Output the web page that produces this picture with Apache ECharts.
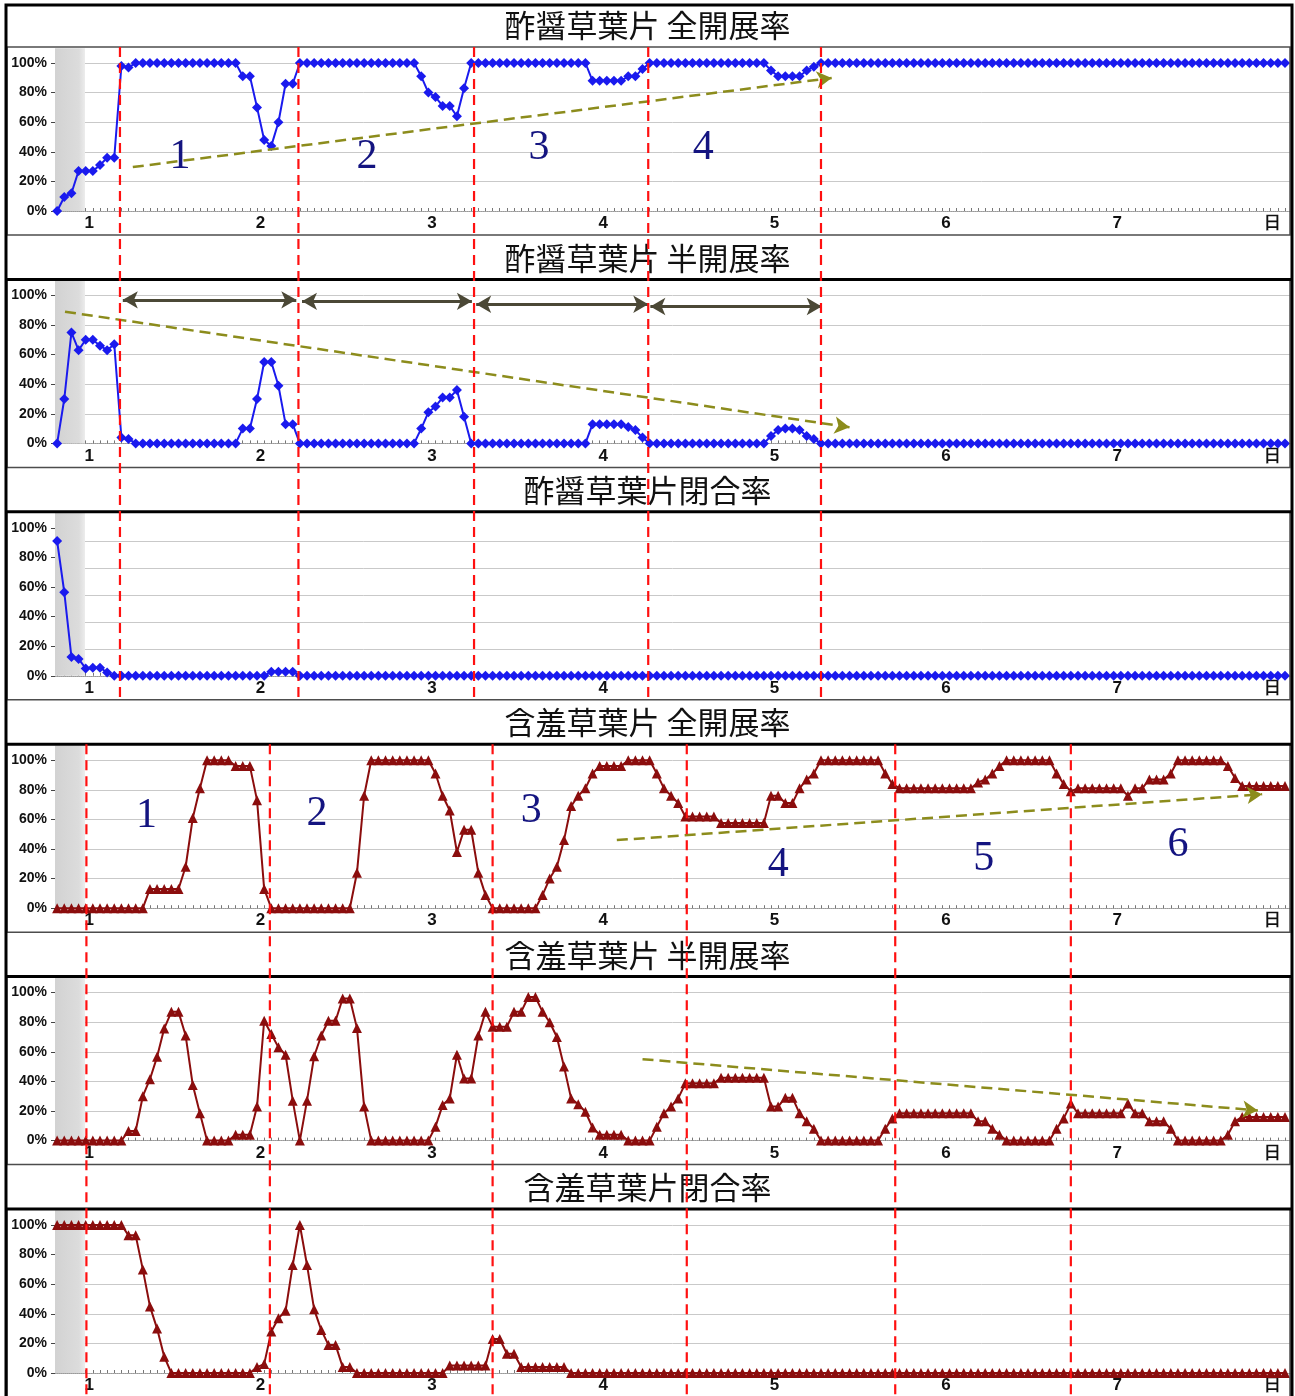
<!DOCTYPE html>
<html>
<head>
<meta charset="utf-8">
<script src="https://cdn.jsdelivr.net/npm/echarts@6/dist/echarts.min.js"></script>
<style>
  html, body { margin: 0; padding: 0; background: #fff; }
  #main { width: 1295px; height: 1396px; }
</style>
</head>
<body>
<div id="main"></div>
<script>
// Hourly leaf-state ratios (%), hour 0 … 172, one row per day.
const oxalisFull = [
  0, 9.5, 12, 27, 27, 27, 31, 36, 36, 98, 97, 100, 100, 100, 100, 100, 100, 100, 100, 100, 100, 100, 100, 100,
  100, 100, 91, 91, 70, 48, 44, 60, 86, 86, 100, 100, 100, 100, 100, 100, 100, 100, 100, 100, 100, 100, 100, 100,
  100, 100, 100, 91, 80, 77, 71, 71, 64, 83, 100, 100, 100, 100, 100, 100, 100, 100, 100, 100, 100, 100, 100, 100,
  100, 100, 100, 88, 88, 88, 88, 88, 91, 91, 96, 100, 100, 100, 100, 100, 100, 100, 100, 100, 100, 100, 100, 100,
  100, 100, 100, 100, 95, 91, 91, 91, 91, 95, 97.5, 100, 100, 100, 100, 100, 100, 100, 100, 100, 100, 100, 100, 100,
  100, 100, 100, 100, 100, 100, 100, 100, 100, 100, 100, 100, 100, 100, 100, 100, 100, 100, 100, 100, 100, 100, 100, 100,
  100, 100, 100, 100, 100, 100, 100, 100, 100, 100, 100, 100, 100, 100, 100, 100, 100, 100, 100, 100, 100, 100, 100, 100,
  100, 100, 100, 100, 100
];
const oxalisHalf = [
  0, 30, 75, 63, 70, 70, 66, 63, 67, 4, 3, 0, 0, 0, 0, 0, 0, 0, 0, 0, 0, 0, 0, 0,
  0, 0, 10, 10, 30, 55, 55, 39, 13, 13, 0, 0, 0, 0, 0, 0, 0, 0, 0, 0, 0, 0, 0, 0,
  0, 0, 0, 10, 21, 25, 31, 31, 36, 18, 0, 0, 0, 0, 0, 0, 0, 0, 0, 0, 0, 0, 0, 0,
  0, 0, 0, 13, 13, 13, 13, 13, 11, 9, 4, 0, 0, 0, 0, 0, 0, 0, 0, 0, 0, 0, 0, 0,
  0, 0, 0, 0, 5, 9, 10, 10, 9, 5, 3, 0, 0, 0, 0, 0, 0, 0, 0, 0, 0, 0, 0, 0,
  0, 0, 0, 0, 0, 0, 0, 0, 0, 0, 0, 0, 0, 0, 0, 0, 0, 0, 0, 0, 0, 0, 0, 0,
  0, 0, 0, 0, 0, 0, 0, 0, 0, 0, 0, 0, 0, 0, 0, 0, 0, 0, 0, 0, 0, 0, 0, 0,
  0, 0, 0, 0, 0
];
const oxalisClosed = [
  100, 62, 14, 12.5, 5.5, 6, 6, 2.5, 0, 0, 0, 0, 0, 0, 0, 0, 0, 0, 0, 0, 0, 0, 0, 0,
  0, 0, 0, 0, 0, 0, 3, 3, 3, 3, 0, 0, 0, 0, 0, 0, 0, 0, 0, 0, 0, 0, 0, 0,
  0, 0, 0, 0, 0, 0, 0, 0, 0, 0, 0, 0, 0, 0, 0, 0, 0, 0, 0, 0, 0, 0, 0, 0,
  0, 0, 0, 0, 0, 0, 0, 0, 0, 0, 0, 0, 0, 0, 0, 0, 0, 0, 0, 0, 0, 0, 0, 0,
  0, 0, 0, 0, 0, 0, 0, 0, 0, 0, 0, 0, 0, 0, 0, 0, 0, 0, 0, 0, 0, 0, 0, 0,
  0, 0, 0, 0, 0, 0, 0, 0, 0, 0, 0, 0, 0, 0, 0, 0, 0, 0, 0, 0, 0, 0, 0, 0,
  0, 0, 0, 0, 0, 0, 0, 0, 0, 0, 0, 0, 0, 0, 0, 0, 0, 0, 0, 0, 0, 0, 0, 0,
  0, 0, 0, 0, 0
];
const mimosaFull = [
  0, 0, 0, 0, 0, 0, 0, 0, 0, 0, 0, 0, 0, 13, 13, 13, 13, 13, 28, 61, 81, 100, 100, 100,
  100, 96, 96, 96, 73, 13, 0, 0, 0, 0, 0, 0, 0, 0, 0, 0, 0, 0, 24, 76, 100, 100, 100, 100,
  100, 100, 100, 100, 100, 91, 76, 66, 38, 53, 53, 24, 9, 0, 0, 0, 0, 0, 0, 0, 9, 20, 28, 46,
  69, 76, 81, 91, 96, 96, 96, 96, 100, 100, 100, 100, 91, 81, 76, 71, 62, 62, 62, 62, 62, 57.5, 57.5, 57.5,
  57.5, 57.5, 57.5, 57.5, 76, 76, 71, 71, 81, 87, 91, 100, 100, 100, 100, 100, 100, 100, 100, 100, 91, 84, 81, 81,
  81, 81, 81, 81, 81, 81, 81, 81, 81, 85, 87, 91, 96, 100, 100, 100, 100, 100, 100, 100, 91, 84, 79, 81,
  81, 81, 81, 81, 81, 81, 76, 81, 81, 87, 87, 87, 91, 100, 100, 100, 100, 100, 100, 100, 96, 88, 82.5, 82.5,
  82.5, 82.5, 82.5, 82.5, 82.5
];
const mimosaHalf = [
  0, 0, 0, 0, 0, 0, 0, 0, 0, 0, 6.5, 6.5, 30, 41.5, 56.6, 75.7, 87, 87, 71, 37.5, 18.4, 0, 0, 0,
  0, 4, 4, 4, 23, 81, 72, 63, 58, 27, 0, 27, 57, 71, 81, 81, 96, 96, 76, 23, 0, 0, 0, 0,
  0, 0, 0, 0, 0, 9.4, 24, 28.5, 58, 42, 42, 71, 87, 77, 77, 77, 87, 87, 97, 97, 87, 80, 70, 50,
  28.5, 24.5, 19.5, 8.8, 4, 4, 4, 4, 0, 0, 0, 0, 9.4, 18.4, 23, 28.5, 38.7, 38.7, 38.7, 38.7, 38.7, 42.5, 42.5, 42.5,
  42.5, 42.5, 42.5, 42.5, 23, 23, 29, 29, 18.4, 13, 8, 0, 0, 0, 0, 0, 0, 0, 0, 0, 8, 15, 18.4, 18.4,
  18.4, 18.4, 18.4, 18.4, 18.4, 18.4, 18.4, 18.4, 18.4, 13, 13, 8, 4, 0, 0, 0, 0, 0, 0, 0, 8, 15, 25, 18.4,
  18.4, 18.4, 18.4, 18.4, 18.4, 18.4, 25, 18.4, 18.4, 13, 13, 13, 8, 0, 0, 0, 0, 0, 0, 0, 4, 13, 16, 16,
  16, 16, 16, 16, 16
];
const mimosaClosed = [
  100, 100, 100, 100, 100, 100, 100, 100, 100, 100, 93, 93, 70, 45, 30, 11, 0, 0, 0, 0, 0, 0, 0, 0,
  0, 0, 0, 0, 4, 6, 28, 37, 42, 73, 100, 73, 43, 29, 19, 19, 4, 4, 0, 0, 0, 0, 0, 0,
  0, 0, 0, 0, 0, 0, 0, 5, 5, 5, 5, 5, 5, 23, 23, 13, 13, 4, 4, 4, 4, 4, 4, 4,
  0, 0, 0, 0, 0, 0, 0, 0, 0, 0, 0, 0, 0, 0, 0, 0, 0, 0, 0, 0, 0, 0, 0, 0,
  0, 0, 0, 0, 0, 0, 0, 0, 0, 0, 0, 0, 0, 0, 0, 0, 0, 0, 0, 0, 0, 0, 0, 0,
  0, 0, 0, 0, 0, 0, 0, 0, 0, 0, 0, 0, 0, 0, 0, 0, 0, 0, 0, 0, 0, 0, 0, 0,
  0, 0, 0, 0, 0, 0, 0, 0, 0, 0, 0, 0, 0, 0, 0, 0, 0, 0, 0, 0, 0, 0, 0, 0,
  0, 0, 0, 0, 0
];

const panelTitles = [
  '酢醤草葉片 全開展率', '酢醤草葉片 半開展率', '酢醤草葉片閉合率',
  '含羞草葉片 全開展率', '含羞草葉片 半開展率', '含羞草葉片閉合率'
];

// Axis ticks (hours on the x axis; day numbers are placed mid-cycle)
const dayTicks = [4.5, 28.5, 52.5, 76.5, 100.5, 124.5, 148.5];
const dayLabels = ['1', '2', '3', '4', '5', '6', '7'];
const unitTick = 170.3;
const unitLabel = '日';
const percentTicks = [0, 20, 40, 60, 80, 100];

// Cycle boundaries (hour) for each plant
const oxalisCycles = [8.8, 33.8, 58.4, 82.8, 107];
const mimosaCycles = [4.1, 29.8, 61, 88.2, 117.4, 142];

// Cycle numbers [hour, %, text]
const oxalisCycleNumbers = [[17.2, 36.5, '1'], [43.4, 36.5, '2'], [67.5, 42.6, '3'], [90.5, 42.6, '4']];
const mimosaCycleNumbers = [[12.5, 62, '1'], [36.4, 64, '2'], [66.4, 66, '3'], [101, 29, '4'], [129.8, 33, '5'], [157, 42.6, '6']];

// Trend arrows [[hour, %], [hour, %]]
const oxalisFullTrend = [[10.6, 29.7], [108.5, 89.9]];
const oxalisHalfTrend = [[1.1, 89], [111, 10.9]];
const mimosaFullTrend = [[78.4, 46], [168.8, 77]];
const mimosaHalfTrend = [[82, 55], [168.2, 20.4]];
// Cycle spans on the half-open chart [startHour, endHour, %]
const oxalisCycleSpans = [[9.2, 33.5, 97], [34.3, 58.1, 96], [58.7, 82.8, 94], [83.1, 107.1, 92.5]];

const NIGHT_END = 3.9;

// ---- layout ----
const STEP = 232.4;
const GRID_TOP = 48.2;
const GRID_H = 162.8;
const X_MIN = -0.3, X_MAX = 172.7;

const BLUE = '#1a1aee';
const MAROON = '#8b0d0d';
const OLIVE = '#8c8c1c';
const ARROW_DARK = '#4b4836';

const panels = [
  { data: oxalisFull, color: BLUE, symbol: 'diamond', yMax: 110 },
  { data: oxalisHalf, color: BLUE, symbol: 'diamond', yMax: 110 },
  { data: oxalisClosed, color: BLUE, symbol: 'diamond', yMax: 120.8 },
  { data: mimosaFull, color: MAROON, symbol: 'triangle', yMax: 110 },
  { data: mimosaHalf, color: MAROON, symbol: 'triangle', yMax: 110 },
  { data: mimosaClosed, color: MAROON, symbol: 'triangle', yMax: 110 }
];

const hourTicks = oxalisFull.map((_, i) => i);
const gridLineColors = ['#c9c9c9', '#c9c9c9', '#c9c9c9', '#c9c9c9', '#c9c9c9', '#c9c9c9', 'rgba(0,0,0,0)', 'rgba(0,0,0,0)'];

function trendLine(pts) {
  return [{ coord: pts[0] }, { coord: pts[1] }];
}
function numberMarks(list) {
  return list.map(([h, v, t]) => ({ coord: [h, v], name: t }));
}

const option = {
  animation: false,
  backgroundColor: '#fff',
  title: panelTitles.map((t, k) => ({
    text: t,
    left: 'center',
    top: 5 + k * STEP,
    textStyle: { fontFamily: 'Noto Sans CJK JP', fontSize: 31, fontWeight: 'normal', color: '#111' }
  })),
  grid: panels.map((p, k) => ({ left: 55, right: 5, top: GRID_TOP + k * STEP, height: GRID_H })),
  xAxis: panels.map((p, k) => ({
    gridIndex: k,
    type: 'value',
    min: X_MIN,
    max: X_MAX,
    axisLine: { show: true, onZero: false, lineStyle: { color: '#9a9a9a', type: 'dotted', width: 1 } },
    axisTick: { show: true, customValues: hourTicks, length: 3, inside: true, lineStyle: { color: '#777' } },
    axisLabel: {
      customValues: dayTicks.concat([unitTick]),
      formatter: v => (v > 160 ? unitLabel : dayLabels[dayTicks.indexOf(v)]),
      fontFamily: 'Liberation Sans', fontSize: 17, fontWeight: 'bold', color: '#111', margin: 4
    },
    splitLine: { show: false }
  })),
  yAxis: panels.flatMap((p, k) => [
    {
      gridIndex: k, type: 'value', min: 0, max: p.yMax, interval: 20,
      axisLabel: { show: false }, axisTick: { show: false }, axisLine: { show: false },
      splitLine: { show: true, lineStyle: { color: gridLineColors, width: 1 } }
    },
    {
      gridIndex: k, type: 'value', min: 0, max: 110, position: 'left',
      axisLine: { show: false },
      axisTick: { show: true, customValues: percentTicks, length: 4, lineStyle: { color: '#444' } },
      axisLabel: {
        customValues: percentTicks, formatter: '{value}%',
        fontFamily: 'Liberation Sans', fontSize: 14, fontWeight: 'bold', color: '#111', margin: 8
      },
      splitLine: { show: false }
    }
  ]),
  series: []
};

panels.forEach((p, k) => {
  option.series.push({
    type: 'line',
    xAxisIndex: k,
    yAxisIndex: 2 * k,
    data: p.data.map((v, i) => [i, v]),
    symbol: p.symbol,
    symbolSize: p.symbol === 'diamond' ? 10 : 10,
    showAllSymbol: true,
    clip: false,
    lineStyle: { color: p.color, width: 2 },
    itemStyle: { color: p.color },
    silent: true,
    z: 3,
    markArea: {
      silent: true,
      itemStyle: {
        color: new echarts.graphic.LinearGradient(0, 0, 1, 0, [
          { offset: 0, color: '#d2d2d2' }, { offset: 0.8, color: '#dcdcdc' }, { offset: 1, color: '#ececec' }
        ])
      },
      data: [[{ xAxis: X_MIN }, { xAxis: NIGHT_END }]]
    }
  });
});

const trendStyle = {
  silent: true,
  symbol: ['none', 'arrow'],
  symbolSize: [13, 15],
  label: { show: false },
  lineStyle: { color: OLIVE, width: 2.5, type: [11, 6] }
};
option.series[0].markLine = Object.assign({ data: [trendLine(oxalisFullTrend)] }, trendStyle);
option.series[1].markLine = Object.assign({ data: [trendLine(oxalisHalfTrend)] }, trendStyle);
option.series[3].markLine = Object.assign({ data: [trendLine(mimosaFullTrend)] }, trendStyle);
option.series[4].markLine = Object.assign({ data: [trendLine(mimosaHalfTrend)] }, trendStyle);

const numberStyle = {
  silent: true,
  symbol: 'rect',
  symbolSize: 1,
  itemStyle: { color: 'rgba(0,0,0,0)' },
  label: {
    show: true, position: 'inside', formatter: '{b}',
    fontFamily: 'Liberation Serif', fontSize: 42, color: '#141480'
  }
};
option.series[0].markPoint = Object.assign({ data: numberMarks(oxalisCycleNumbers) }, numberStyle);
option.series[3].markPoint = Object.assign({ data: numberMarks(mimosaCycleNumbers) }, numberStyle);

// double-headed arrows spanning each cycle on the half-open chart
option.series.push({
  type: 'line',
  xAxisIndex: 1,
  yAxisIndex: 2,
  data: [],
  silent: true,
  markLine: {
    silent: true,
    symbol: ['arrow', 'arrow'],
    symbolSize: [13, 15],
    label: { show: false },
    lineStyle: { color: ARROW_DARK, width: 3, type: 'solid' },
    data: oxalisCycleSpans.map(([a, b, v]) => [{ coord: [a, v] }, { coord: [b, v] }])
  }
});

const chart = echarts.init(document.getElementById('main'), null, { renderer: 'canvas' });
chart.setOption(option);

// frames, table rules and cycle boundaries
const graphics = [];
panels.forEach((p, k) => {
  graphics.push({
    type: 'rect', silent: true, z: 60,
    shape: { x: 7, y: 47 + k * STEP, width: 1283, height: 188 },
    style: { fill: null, stroke: '#4d4d4d', lineWidth: 1.5 }
  });
  if (k > 0) {
    graphics.push({
      type: 'line', silent: true, z: 61,
      shape: { x1: 6, y1: 47 + k * STEP, x2: 1292, y2: 47 + k * STEP },
      style: { stroke: '#000', lineWidth: 3 }
    });
  }
});
graphics.push({
  type: 'rect', silent: true, z: 62,
  shape: { x: 6, y: 5, width: 1286, height: 1393 },
  style: { fill: null, stroke: '#000', lineWidth: 3 }
});
const xPix = h => chart.convertToPixel({ xAxisIndex: 0 }, h);
oxalisCycles.forEach(h => {
  const x = xPix(h);
  graphics.push({
    type: 'line', silent: true, z: 70,
    shape: { x1: x, y1: 47, x2: x, y2: 47 + 2 * STEP + 188 },
    style: { stroke: '#ff1010', lineWidth: 2.2, lineDash: [10, 6] }
  });
});
mimosaCycles.forEach(h => {
  const x = xPix(h);
  graphics.push({
    type: 'line', silent: true, z: 70,
    shape: { x1: x, y1: 47 + 3 * STEP, x2: x, y2: 1396 },
    style: { stroke: '#ff1010', lineWidth: 2.2, lineDash: [10, 6] }
  });
});
chart.setOption({ graphic: graphics });
</script>
</body>
</html>
